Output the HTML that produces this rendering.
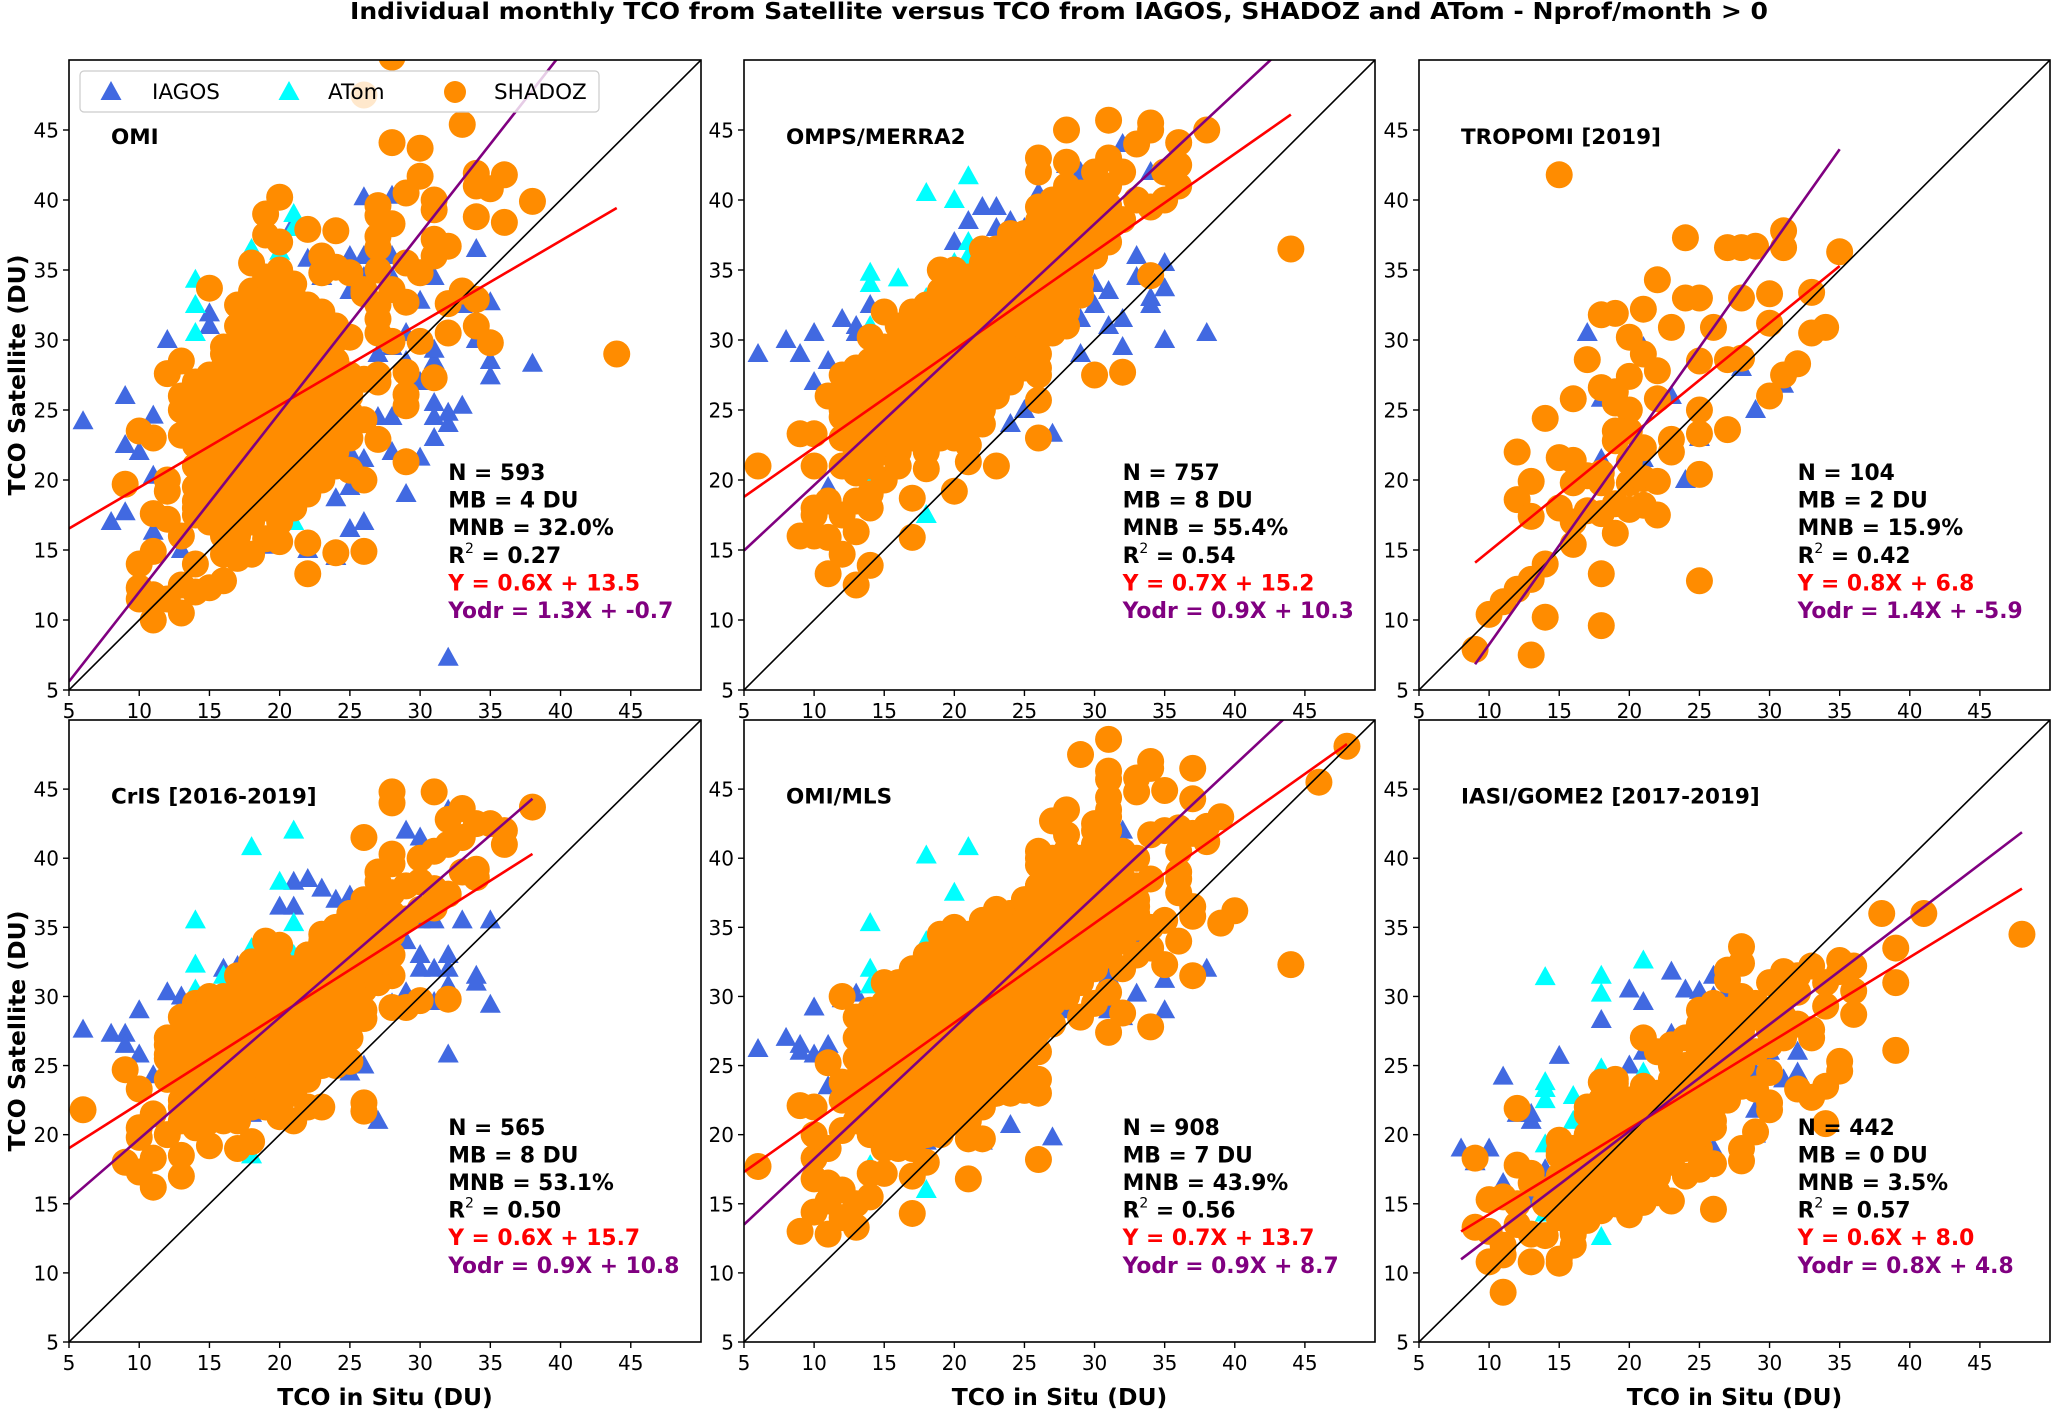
<!DOCTYPE html>
<html><head><meta charset="utf-8"><title>TCO Satellite vs In Situ</title>
<style>
html,body{margin:0;padding:0;background:#fff;}
svg{display:block;font-family:"DejaVu Sans","Liberation Sans",sans-serif;}
</style></head>
<body>
<svg id="fig" xmlns="http://www.w3.org/2000/svg" width="2051" height="1410" viewBox="0 0 2051 1410">
<rect width="2051" height="1410" fill="#fff"/>
<text x="1059" y="19" text-anchor="middle" font-size="23" font-weight="bold" textLength="1418" lengthAdjust="spacingAndGlyphs">Individual monthly TCO from Satellite versus TCO from IAGOS, SHADOZ and ATom - Nprof/month &gt; 0</text>
<text transform="translate(17,375) rotate(-90)" text-anchor="middle" dominant-baseline="central" font-size="23.5" font-weight="bold">TCO Satellite (DU)</text>
<text transform="translate(17,1031) rotate(-90)" text-anchor="middle" dominant-baseline="central" font-size="23.5" font-weight="bold">TCO Satellite (DU)</text>
<g id="panels"></g>
</svg>
<script>
// ---- data ----
const tickValues = [5,10,15,20,25,30,35,40,45];
const panelNames = ["OMI","OMPS/MERRA2","TROPOMI [2019]","CrIS [2016-2019]","OMI/MLS","IASI/GOME2 [2017-2019]"];
const statN = ["593","757","104","565","908","442"];
const statMB = ["4","8","2","8","7","0"];
const statMNB = ["32.0","55.4","15.9","53.1","43.9","3.5"];
const statR2 = ["0.27","0.54","0.42","0.50","0.56","0.57"];
const regLabel = ["0.6X + 13.5","0.7X + 15.2","0.8X + 6.8","0.6X + 15.7","0.7X + 13.7","0.6X + 8.0"];
const odrLabel = ["1.3X + -0.7","0.9X + 10.3","1.4X + -5.9","0.9X + 10.8","0.9X + 8.7","0.8X + 4.8"];
const regSlope = [0.587,0.70,0.815,0.645,0.72,0.62];
const regIntercept = [13.6,15.3,6.76,15.8,13.7,8.04];
const odrSlope = [1.28,0.933,1.415,0.879,0.95,0.7725];
const odrIntercept = [-0.8,10.3,-5.9,10.9,8.75,4.8];
const fitXmin = [5,5,9,5,5,8];
const fitXmax = [44,44,35,38,48,48];

// OMI
const omiShadoz = [[28,50.2],[26,47.5],[33,45.4],[28,44.1],[30,43.7],[30,41.7],[34,41.9],[34,41.0],[35,40.8],[36,41.8],[38,39.9],[29,40.5],[31,40.0],[31,39.3],[34,38.8],[36,38.4],[27,39.6],[27,38.9],[28,38.3],[31,37.2],[32,36.7],[31,36.0],[27,37.4],[27,36.6],[27,35.0],[29,35.5],[30,34.8],[28,33.6],[29,32.7],[27,32.5],[33,33.5],[32,32.6],[34,32.9],[34,31.0],[35,29.8],[32,30.5],[30,29.9],[27,30.5],[27,31.5],[26,33.3],[28,29.9],[27,27.5],[27,27.0],[29,26.1],[29,25.3],[29,27.7],[31,27.3],[26,24.3],[27,22.9],[29,21.3],[25,20.7],[26,20.0],[22,19.2],[19,15.8],[20,15.6],[22,15.5],[22,13.3],[24,14.8],[26,14.9],[44,29.0],[15,33.7],[18,35.5],[19,39.0],[20,40.2],[19,37.5],[20,37.0],[22,37.9],[24,37.8],[23,36.0],[24,35.2],[23,34.8],[25,34.8],[26,33.6],[25,30.2],[24,31.0],[16,29.0],[12,27.6],[13,28.5],[11,23.0],[9,19.7],[10,23.5],[11,17.6],[12,20.0],[12,19.2],[12,17.2],[13,16.0],[10,14.0],[11,14.9],[10,12.3],[11,11.8],[11,10.0],[10,11.5],[12,11.5],[13,12.5],[13,10.5],[14,12.0],[15,12.3],[16,12.8],[14,14.0],[17,14.4],[18,14.7],[16,14.7],[14,17.5],[14,18.5],[13,23.2],[13,25.0],[13,26.0],[14,26.5],[15,27.0],[25,26.5],[26,27.2],[24,23.5],[25,24.8],[23,22],[24,22]];
const omiShadozCore = [[14,18,19.5,21,22.5,24,25.5,27],[15,17,18.5,20,21.5,23,24.5,26,27.5],[16,16,17.5,19,20.5,22,23.5,25,26.5,28,29.5],[17,16,17.5,19,20.5,22,23.5,25,26.5,28,29.5,31,32.5],[18,17,18.5,20,21.5,23,24.5,26,27.5,29,30.5,32,33.5],[19,18,19.5,21,22.5,24,25.5,27,28.5,30,31.5,33,34.5],[20,17,18.5,20,21.5,23,24.5,26,27.5,29,30.5,32,33.5,35],[21,18,19.5,21,22.5,24,25.5,27,28.5,30,31.5,33,34],[22,19,20.5,22,23.5,25,26.5,28,29.5,31,32.5],[23,20,21.5,23,24.5,26,27.5,29,30.5,32],[24,21,22.5,24,25.5,27,28.5,30],[25,23,24.5,26,27.5]];
const omiIagos = [[6,24.2],[9,26],[9,22.5],[10,22],[8,17],[9,17.7],[11,24.6],[12,30],[11,20.3],[11,16.3],[13,15],[15,31],[15,31.9],[14,22],[18,18],[19,15.3],[20,16.5],[22,15],[24,14.5],[25,16.5],[26,17],[24,18.7],[25,19.5],[26,21.5],[25,22],[27,24.5],[28,24.5],[28,22],[29,21.5],[30,21.6],[29,19],[31,23],[31,24.5],[32,24],[32,24.8],[33,25.3],[31,25.5],[30,27],[31,28.5],[31,29.3],[35,28.5],[35,27.4],[35,32.7],[34,31.5],[34,30],[38,28.3],[34,36.5],[32,7.3],[26,40.2],[28,40.3],[28,36],[25,36],[26,36],[23,34.5],[22,35.8],[21,38.3],[31,34.5],[30,32.8],[33,32.5],[27,29],[29,28.5],[29,30.5],[28,29.5],[25,33.5],[26,34.5],[28,34.5]];
const omiAtom = [[14,34.3],[14,32.5],[14,30.5],[18,36.5],[20,36.3],[21,39],[21,38],[16,28.5],[14,21.5],[21,17],[18,17],[21,31.6],[18,29]];

// OMPS/MERRA2
const ompsShadoz = [[6,21],[9,23.3],[10,23.3],[10,21],[9,16],[10,16],[11,15.9],[11,13.3],[12,14.7],[13,16.3],[13,12.5],[14,13.9],[10,17.5],[10,18],[11,18.5],[12,17.5],[13,18.5],[14,18],[15,20],[16,21],[17,18.7],[17,15.9],[18,20.8],[20,19.2],[21,21.3],[23,21],[11,26],[12,25],[15,32],[14,30.2],[44,36.5],[38,45],[34,45.5],[34,45],[31,45.7],[28,45],[36,44.1],[33,44],[26,43],[26,42],[28,42.7],[30,42],[31,43],[32,42],[35,42],[36,42.5],[36,41],[35,40],[34,39.5],[33,40],[29,40.5],[28,41],[27,39.5],[26,38.5],[24,37.6],[25,37.6],[22,36.5],[19,35],[30,36],[31,37],[29,34],[29,33.2],[28,32],[28,31],[27,31.5],[27,30.5],[26,28],[26,27.5],[26,25.7],[26,23],[30,27.5],[32,27.7],[34,34.6],[32,38.6],[31,39.6],[30,38.5],[12,21],[13,20.5],[14,19],[16,23],[21,22.5],[22,24]];
const ompsShadozCore = [[12,23,24.5,26,27.5],[13,22,23.5,25,26.5,28],[14,21,22.5,24,25.5,27,28.5],[15,22,23.5,25,26.5,28,29.5],[16,22,23.5,25,26.5,28,29.5,31],[17,23,24.5,26,27.5,29,30.5,32],[18,22,23.5,25,26.5,28,29.5,31,32.5],[19,23,24.5,26,27.5,29,30.5,32,33.5],[20,23,24.5,26,27.5,29,30.5,32,33.5,35],[21,24,25.5,27,28.5,30,31.5,33,34.5],[22,25,26.5,28,29.5,31,32.5,34,35.5],[23,26,27.5,29,30.5,32,33.5,35,36.5],[24,27,28.5,30,31.5,33,34.5,36],[25,28,29.5,31,32.5,34,35.5,37],[26,29,30.5,32,33.5,35,36.5,38,39.5],[27,31,32.5,34,35.5,37,38.5,40],[28,33,34.5,36,37.5,39,40.5],[29,35,36.5,38,39.5],[30,36,37.5,39,40.5],[31,38,39.5,41]];
const ompsIagos = [[6,29],[8,30],[9,29],[10,30.5],[11,28.5],[10,27],[12,31.5],[13,31],[13,30.5],[14,32.5],[21,38.5],[22,39.5],[23,39.5],[24,38.5],[25,38],[23,38],[20,37],[26,40.5],[28,42.5],[29,42],[32,44],[34,42],[29,36],[30,34],[31,33.5],[30,32.5],[31,31],[32,31.5],[33,36],[33,34.5],[34,33],[34,32.5],[35,33.7],[35,35.5],[35,30],[38,30.5],[32,29.5],[29,29],[29,31.5],[28,31],[25,25],[24,24],[27,23.3],[11,19.5]];
const ompsAtom = [[14,34.8],[14,34],[16,34.4],[18,40.5],[20,40],[21,41.7],[21,37],[21,36],[20,35.5],[18,33],[14,31],[14,29],[14,20.5],[14,22],[18,17.5],[21,24.5]];

// TROPOMI
const tropShadoz = [[15,41.8],[24,37.3],[31,37.8],[27,36.6],[28,36.6],[29,36.7],[31,36.6],[35,36.3],[22,34.3],[24,33],[25,33],[21,32.2],[18,31.8],[19,31.9],[20,30.2],[23,30.9],[26,30.9],[28,33],[30,33.3],[33,33.4],[30,31.2],[33,30.5],[34,30.9],[17,28.6],[21,29],[22,27.8],[20,27.4],[25,28.5],[27,28.6],[28,28.7],[32,28.3],[31,27.5],[30,26],[16,25.8],[18,26.6],[19,26.3],[19,25.5],[20,25],[22,25.8],[14,24.4],[25,25],[19,23.5],[20,23.5],[19,22.8],[21,22.3],[23,22.9],[23,22],[25,23.3],[27,23.6],[12,22],[15,21.6],[16,21.4],[20,21.3],[17,20.3],[18,20.5],[16,19.8],[13,19.9],[18,19.8],[20,19.8],[21,20.1],[22,19.9],[25,20.4],[12,18.6],[13,17.4],[15,18],[17,17.8],[18,17.6],[19,18.3],[20,17.9],[21,18.2],[22,17.5],[16,17],[16,15.4],[19,16.2],[14,14],[13,12.9],[12,12.2],[11,11.3],[10,10.4],[14,10.2],[18,13.3],[25,12.8],[18,9.6],[9,7.9],[13,7.5]];
const tropIagos = [[17,30.5],[21,29.5],[18,25.8],[23,26],[28,28],[29,25],[31,26.8],[18,21.5],[21,21.5],[25,23],[24,20]];
const tropAtom = [];

// CrIS
const crisShadoz = [[6,21.8],[9,24.7],[10,23.3],[9,18],[10,17.3],[11,16.2],[13,17],[13,18.5],[10,20.5],[10,19.8],[11,21.5],[11,18.3],[12,20],[13,22],[14,20.5],[15,19.2],[17,19],[18,19.5],[21,21],[20,21.3],[23,22],[26,22.3],[26,21.7],[25,25.3],[26,28.4],[28,29.2],[29,29.2],[30,29.7],[32,29.8],[28,44.8],[28,44],[31,44.8],[32,42.8],[33,43.6],[34,42.5],[35,42.5],[36,42],[36,41],[38,43.7],[26,41.5],[28,40.3],[28,39.6],[30,40],[31,40.5],[32,41],[33,41.5],[33,39],[34,39.2],[34,38.6],[32,37.4],[31,37.8],[30,38.3],[29,38],[27,39],[27,38.3],[26,37],[25,36],[30,36.3],[31,36.4],[29,35.6],[28,35],[19,34],[20,33.7],[22,33],[23,34.5],[14,29.5],[15,29.5],[12,26.5],[12,25.8],[27,33],[28,31.5],[27,31],[25,29.5],[25,27],[24,25],[23,27],[22,22]];
const crisShadozCore = [[12,24,25.5,27],[13,21,22.5,24,25.5,27,28.5],[14,21,22.5,24,25.5,27,28.5],[15,21,22.5,24,25.5,27,28.5,30],[16,21,22.5,24,25.5,27,28.5,30],[17,21,22.5,24,25.5,27,28.5,30,31.5],[18,22,23.5,25,26.5,28,29.5,31,32.5],[19,22,23.5,25,26.5,28,29.5,31,32.5],[20,22,23.5,25,26.5,28,29.5,31,32.5],[21,23,24.5,26,27.5,29,30.5,32],[22,24,25.5,27,28.5,30,31.5,33],[23,25,26.5,28,29.5,31,32.5,34],[24,26,27.5,29,30.5,32,33.5,35],[25,27,28.5,30,31.5,33,34.5,36],[26,29,30.5,32,33.5,35,36.5],[27,31,32.5,34,35.5,37],[28,33,34.5,36,37.5]];
const crisIagos = [[6,27.6],[8,27.3],[9,27.3],[9,26.5],[10,25.8],[10,29],[11,24.3],[12,30.3],[13,30],[13,28],[16,32],[17,32.2],[18,33],[20,36.5],[21,36.5],[21,38.3],[22,38.5],[23,37.8],[24,37],[25,37.3],[29,42],[30,41.5],[32,43.5],[30,35.5],[31,35.5],[33,35.5],[35,35.5],[29,34],[30,33],[30,32],[31,32],[32,33],[32,32],[34,31.5],[34,31],[35,29.4],[32,30.8],[31,29.6],[29,30.3],[28,29.5],[32,25.8],[27,21],[26,25],[25,24.5],[18,21.5],[14,24],[13,24.2]];
const crisAtom = [[14,35.5],[14,32.3],[14,30.5],[16,31.5],[18,40.8],[20,38.3],[21,42],[21,35.3],[18,33.5],[21,33],[18,18.5],[14,21]];

// OMI/MLS
const mlsShadoz = [[31,48.6],[29,47.5],[34,47],[34,46.5],[37,46.5],[31,46.3],[31,45.7],[33,45.8],[33,44.8],[35,44.9],[31,44.4],[37,44.3],[46,45.5],[48,48.1],[39,43],[38,42.3],[38,41.2],[37,41.8],[36,42.2],[35,42],[34,41.7],[36,40.5],[36,39],[36,38.5],[36,37.5],[37,36.5],[37,35.8],[39,35.3],[40,36.2],[36,34],[35,32.3],[37,31.5],[44,32.3],[34,27.8],[31,27.4],[32,28.8],[29,28.5],[30,29.5],[31,30.3],[28,43.5],[27,42.7],[28,41.7],[26,40.5],[26,40],[30,42],[31,43],[30,41],[31,40],[32,40.5],[33,40],[34,38.5],[33,37],[33,36],[34,35],[35,35.5],[34,33.5],[33,33],[32,32],[26,23],[26,24],[25,23.2],[24,23],[23,23],[22,19.7],[21,19.7],[21,16.8],[18,18],[17,17],[17,14.3],[13,13.3],[11,12.8],[9,13],[10,14.4],[11,15.2],[12,14],[14,15.5],[13,15],[14,17.2],[15,17.2],[10,16.8],[11,16.5],[12,16],[10,18.3],[10,20],[11,19],[12,20.3],[9,22.1],[10,22],[12,22.5],[12,23.8],[11,25.2],[12,30],[6,17.7],[26,18.2],[19,34.5],[20,35],[23,36.3],[24,36],[25,37],[26,38],[27,38.5],[28,39]];
const mlsShadozCore = [[13,21,22.5,24,25.5,27,28.5],[14,20,21.5,23,24.5,26,27.5,29],[15,19,20.5,22,23.5,25,26.5,28,29.5,31],[16,19,20.5,22,23.5,25,26.5,28,29.5,31],[17,19,20.5,22,23.5,25,26.5,28,29.5,31,32],[18,20,21.5,23,24.5,26,27.5,29,30.5,32,33],[19,20,21.5,23,24.5,26,27.5,29,30.5,32,33.5],[20,21,22.5,24,25.5,27,28.5,30,31.5,33,34.5],[21,21,22.5,24,25.5,27,28.5,30,31.5,33,34.5],[22,22,23.5,25,26.5,28,29.5,31,32.5,34,35.5],[23,23,24.5,26,27.5,29,30.5,32,33.5,35,36],[24,24,25.5,27,28.5,30,31.5,33,34.5,36],[25,25,26.5,28,29.5,31,32.5,34,35.5,37],[26,26,27.5,29,30.5,32,33.5,35,36.5,38,39.5],[27,28,29.5,31,32.5,34,35.5,37,38.5,40],[28,30,31.5,33,34.5,36,37.5,39,40.5],[29,31,32.5,34,35.5,37,38.5,40],[30,32,33.5,35,36.5,38,39.5,41,42.5],[31,33,34.5,36,37.5,39,40.5,42,43.5],[32,34,35.5,37,38.5,40],[33,35,36.5,38]];
const mlsIagos = [[6,26.2],[8,27],[9,26.5],[9,26],[10,25.8],[10,29.2],[11,26.5],[11,23.5],[12,29.8],[13,30.2],[13,28.5],[13,24.5],[24,20.7],[27,19.8],[22,19.5],[18,19.5],[21,34.5],[25,35],[29,38],[31,36.5],[32,42],[33,34.5],[34,35],[35,35.5],[35,31.2],[33,30.2],[35,29],[38,32],[31,29],[32,28.5],[28,29],[26,30],[25,28.5],[29,31],[31,31.5],[18,32.5]];
const mlsAtom = [[14,35.3],[14,32],[14,30.8],[18,40.2],[21,40.8],[20,37.5],[18,34],[18,16],[14,17.8],[21,23],[16,30.5]];

// IASI/GOME2
const iasiShadoz = [[38,36],[41,36],[48,34.5],[39,33.5],[39,31],[39,26.1],[36,32.2],[35,32.6],[35,31.8],[36,30.4],[36,28.7],[34,31],[34,29.3],[33,32.2],[33,27.6],[32,31.5],[31,31.8],[32,30.3],[31,30],[30,31],[30,29],[30,27.5],[29,28.5],[28,33.6],[28,32.4],[27,31.9],[27,31.2],[28,30],[26,29.5],[25,29],[25,28],[26,27],[24,27],[21,27],[22,26],[23,26.5],[25,26],[23,25],[28,25],[28,23.5],[27,22.5],[30,24.5],[30,22.3],[30,21.8],[32,23.3],[33,22.7],[34,23.5],[34,20.8],[35,25.3],[35,24.6],[29,20.2],[28,19],[28,18.1],[26,17.9],[25,19],[25,17.5],[24,17],[23,15.2],[22,15.8],[21,15.1],[20,14.2],[26,14.6],[18,14.5],[17,13.8],[16,12.8],[16,12],[15,11],[15,10.7],[13,10.8],[11,11.3],[11,12],[11,8.6],[10,10.8],[9,13.3],[10,15.3],[11,15.5],[12,15],[13,16.5],[13,17.2],[12,17.8],[12,21.9],[9,18.3],[14,12.7],[13,12.8],[12,13.5],[10,13],[15,19.6],[15,18.8],[16,19],[17,20],[18,23.8],[19,23.7],[20,22.5],[21,23.5],[17,22],[18,21],[19,21],[20,20.5],[21,20],[22,21],[23,22],[24,21],[25,21],[26,22],[27,24],[24,19.5],[23,19],[22,18.5],[21,18],[20,17.5],[19,18],[18,17],[17,17],[16,16],[15,15.5],[14,15],[19,16],[20,19],[16,14],[17,15.5],[18,19.5],[19,15],[22,22.8],[23,23],[26,25],[27,26.5],[29,26],[31,27],[32,28],[31,28.5],[29,29.5],[25,24],[24,24.5],[26,20.5],[22,17],[16,17.5],[14,16],[27,28],[28,27.5],[30,26.5],[29,23.3],[33,27],[18,22.5],[19,19.5],[20,21],[17,18.5],[21,21.5],[22,19.5]];
const iasiShadozCore = [[15,14,15.5,17,18.5],[16,13,14.5,16,17.5,19],[17,14,15.5,17,18.5,20,21.5],[18,15,16.5,18,19.5,21,22.5],[19,15,16.5,18,19.5,21,22.5,24],[20,15,16.5,18,19.5,21,22.5],[21,16,17.5,19,20.5,22],[22,17,18.5,20,21.5,23],[23,18,19.5,21,22.5,24],[24,19,20.5,22,23.5,25],[25,20,21.5,23,24.5,26,27.5],[26,21,22.5,24,25.5,27,28.5],[27,23,24.5,26,27.5,29],[28,25,26.5,28,29.5]];
const iasiIagos = [[8,19],[10,19],[9,18],[11,24.2],[11,16.5],[12,21.5],[13,21],[13,21.5],[15,25.7],[17,21.5],[18,28.3],[20,30.5],[21,29.6],[23,31.8],[24,30.5],[25,30.4],[26,31.5],[20,25],[21,26],[23,27.3],[25,27],[26,30],[28,26.5],[29,24.5],[30,26],[31,24],[32,24.5],[32,26],[33,27],[31,29.7],[29,21.8],[29,20],[26,19],[27,30.5],[14,17.5],[13,15.5]];
const iasiAtom = [[14,31.4],[18,31.5],[18,30.2],[21,32.6],[14,23.8],[14,23.3],[14,22.5],[16,22.8],[16,21],[14,19.3],[18,24.8],[21,24.5],[18,12.6],[14,14.3],[21,16.5]];

const shadozByPanel = [omiShadoz, ompsShadoz, tropShadoz, crisShadoz, mlsShadoz, iasiShadoz];
const shadozCoreByPanel = [omiShadozCore, ompsShadozCore, [], crisShadozCore, mlsShadozCore, iasiShadozCore];
const iagosByPanel = [omiIagos, ompsIagos, tropIagos, crisIagos, mlsIagos, iasiIagos];
const atomByPanel = [omiAtom, ompsAtom, tropAtom, crisAtom, mlsAtom, iasiAtom];

// ---- layout ----
const NS = "http://www.w3.org/2000/svg";
const DMIN = 5, DMAX = 50;
const panelBoxes = [
  {x:69,y:60,w:632,h:630},{x:744,y:60,w:631,h:630},{x:1419,y:60,w:631,h:630},
  {x:69,y:720,w:632,h:622},{x:744,y:720,w:631,h:622},{x:1419,y:720,w:631,h:622}
];
function mk(tag, attrs, parent){
  const e = document.createElementNS(NS, tag);
  for (const k in attrs) e.setAttribute(k, attrs[k]);
  if (parent) parent.appendChild(e);
  return e;
}
const root = document.getElementById('panels');

panelBoxes.forEach((b, i) => {
  const sx = v => b.x + (v - DMIN) / (DMAX - DMIN) * b.w;
  const sy = v => b.y + b.h - (v - DMIN) / (DMAX - DMIN) * b.h;
  const g = mk('g', {}, root);
  
  
  const cp = mk('clipPath', {id:'clip'+i}, g);
  mk('rect', {x:b.x, y:b.y, width:b.w, height:b.h}, cp);
  const plot = mk('g', {'clip-path':'url(#clip'+i+')'}, g);
  
  

  iagosByPanel[i].forEach(p => {
    const cx = sx(p[0]), cy = sy(p[1]);
    const t = mk('polygon', {points:(cx)+','+(cy-11)+' '+(cx-10.5)+','+(cy+8)+' '+(cx+10.5)+','+(cy+8), fill:'#4169e1'}, plot);
    
    
  });
  atomByPanel[i].forEach(p => {
    const cx = sx(p[0]), cy = sy(p[1]);
    const t = mk('polygon', {points:(cx)+','+(cy-11)+' '+(cx-10.5)+','+(cy+8)+' '+(cx+10.5)+','+(cy+8), fill:'#00ffff'}, plot);
    
    
  });
  const drawCircle = (x, y) => {
    const c = mk('circle', {cx:sx(x), cy:sy(y), r:13.5, fill:'#ff8c00'}, plot);
    
    
  };
  shadozByPanel[i].forEach(p => drawCircle(p[0], p[1]));
  shadozCoreByPanel[i].forEach(col => { for (let k = 1; k < col.length; k++) drawCircle(col[0], col[k]); });

  const one = mk('line', {x1:sx(5), y1:sy(5), x2:sx(50), y2:sy(50), stroke:'#000', 'stroke-width':1.6}, plot);
  
  
  const x1 = fitXmin[i], x2 = fitXmax[i];
  const rl = mk('line', {x1:sx(x1), y1:sy(regSlope[i]*x1+regIntercept[i]), x2:sx(x2), y2:sy(regSlope[i]*x2+regIntercept[i]), stroke:'#ff0000', 'stroke-width':2.6}, plot);
  
  
  const ol = mk('line', {x1:sx(x1), y1:sy(odrSlope[i]*x1+odrIntercept[i]), x2:sx(x2), y2:sy(odrSlope[i]*x2+odrIntercept[i]), stroke:'#800080', 'stroke-width':2.6}, plot);
  
  

  const fr = mk('rect', {x:b.x, y:b.y, width:b.w, height:b.h, fill:'none', stroke:'#000', 'stroke-width':1.6}, g);
  
  

  tickValues.forEach(v => {
    mk('line', {x1:sx(v), y1:b.y+b.h, x2:sx(v), y2:b.y+b.h+6, stroke:'#000', 'stroke-width':1.4}, g);
    const tx = mk('text', {x:sx(v), y:b.y+b.h+28, 'text-anchor':'middle', 'font-size':20}, g);
    
    
    tx.textContent = v;
    mk('line', {x1:b.x-6, y1:sy(v), x2:b.x, y2:sy(v), stroke:'#000', 'stroke-width':1.4}, g);
    const ty = mk('text', {x:b.x-10, y:sy(v)+7.5, 'text-anchor':'end', 'font-size':20}, g);
    
    
    ty.textContent = v;
  });

  if (i >= 3) {
    const xl = mk('text', {x:b.x+b.w/2, y:1405, 'text-anchor':'middle', 'font-size':23.5, 'font-weight':'bold'}, g);
    
    
    xl.textContent = 'TCO in Situ (DU)';
  }

  const pt = mk('text', {x:b.x+42, y:b.y+0.121*b.h+8, 'font-size':21.5, 'font-weight':'bold'}, g);
  
  
  pt.textContent = panelNames[i];

  const stx = b.x + 0.6*b.w, st0 = b.y + 0.654*b.h + 8, lh = 27.6;
  const lines = [
    {t:'N = ' + statN[i], c:'#000'},
    {t:'MB = ' + statMB[i] + ' DU', c:'#000'},
    {t:'MNB = ' + statMNB[i] + '%', c:'#000'},
    {t:'R2', c:'#000'},
    {t:'Y = ' + regLabel[i], c:'#ff0000'},
    {t:'Yodr = ' + odrLabel[i], c:'#800080'}
  ];
  lines.forEach((ln, k) => {
    const t = mk('text', {x:stx, y:st0 + k*lh, 'font-size':21.8, 'font-weight':'bold', fill:ln.c}, g);
    
    
    if (ln.t === 'R2') {
      t.appendChild(document.createTextNode('R'));
      const sup = mk('tspan', {'font-size':14, 'font-weight':'normal', dy:-10}, t);
      sup.textContent = '2';
      const rest = mk('tspan', {dy:10}, t);
      rest.textContent = ' = ' + statR2[i];
    } else {
      t.textContent = ln.t;
    }
  });

  if (i === 0) {
    const lg = mk('g', {}, g);
    
    
    mk('rect', {x:80, y:71, width:519, height:41, rx:4, fill:'#fff', 'fill-opacity':0.8, stroke:'#cccccc', 'stroke-width':1.2}, lg);
    const e1 = mk('polygon', {points:'111,81 100.5,100 121.5,100', fill:'#4169e1'}, lg);
    
    
    const t1 = mk('text', {x:152, y:99, 'font-size':21.5}, lg); t1.textContent = 'IAGOS';
    
    
    const e2 = mk('polygon', {points:'289,81 278.5,100 299.5,100', fill:'#00ffff'}, lg);
    
    
    const t2 = mk('text', {x:328, y:99, 'font-size':21.5}, lg); t2.textContent = 'ATom';
    
    
    const e3 = mk('circle', {cx:455, cy:92, r:11, fill:'#ff8c00'}, lg);
    
    
    const t3 = mk('text', {x:494, y:99, 'font-size':21.5}, lg); t3.textContent = 'SHADOZ';
    
    
  }
});
</script>
</body></html>
